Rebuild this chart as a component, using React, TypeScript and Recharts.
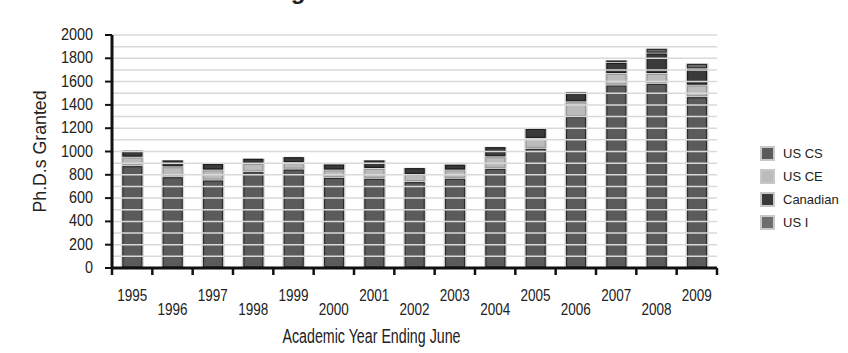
import React from 'react'
import { BarChart, Bar, XAxis, YAxis, ReferenceLine } from 'recharts'

const years = ['1995', '1996', '1997', '1998', '1999', '2000', '2001', '2002', '2003', '2004', '2005', '2006', '2007', '2008', '2009']
const usCS = [878, 783, 755, 826, 849, 778, 770, 741, 770, 855, 1027, 1300, 1570, 1585, 1470]
const usCE = [74, 86, 86, 72, 55, 63, 85, 63, 71, 100, 86, 127, 100, 85, 100]
const canadian = [58, 58, 57, 43, 51, 51, 72, 57, 49, 86, 86, 86, 95, 175, 140]
const usI = [0, 0, 0, 0, 0, 0, 0, 0, 0, 0, 0, 0, 20, 40, 46]
const yTicks = [0, 200, 400, 600, 800, 1000, 1200, 1400, 1600, 1800, 2000]
const gridLines = [100, 200, 300, 400, 500, 600, 700, 800, 900, 1000, 1100, 1200, 1300, 1400, 1500, 1600, 1700, 1800, 1900, 2000]

const data = years.map((year, i) => ({
  year,
  usCS: usCS[i],
  usCE: usCE[i],
  canadian: canadian[i],
  usI: usI[i],
}))

const series = [
  { key: 'usCS', name: 'US CS', fill: '#5b5b5b', edge: '#2b2b2b' },
  { key: 'usCE', name: 'US CE', fill: '#bcbcbc', edge: '#9a9a9a' },
  { key: 'canadian', name: 'Canadian', fill: '#3a3a3a', edge: '#1c1c1c' },
  { key: 'usI', name: 'US I', fill: '#6e6e6e', edge: '#2b2b2b' },
]

const FONT = "'Liberation Sans', Arial, sans-serif"
const W = 848
const H = 353
const LEFT = 112
const RIGHT = 131
const BAND = (W - LEFT - RIGHT) / years.length

const boxShape = (fill: string, edge: string) => (props: any) => {
  const { x, y, width, height } = props
  if (!height || height <= 0) return <g />
  return (
    <g>
      <rect x={x} y={y} width={width} height={height} fill="#d6d6d6" />
      <rect x={x + 2} y={y + 1} width={width - 4} height={Math.max(height - 2, 0)} fill={fill} stroke={edge} strokeWidth={1.2} />
    </g>
  )
}

const YearTick = ({ x, y, payload, index }: any) => {
  const dy = index % 2 === 0 ? 25 : 39
  return (
    <g>
      {index === 0 && <line x1={x - BAND / 2} x2={x - BAND / 2} y1={y - 8} y2={y - 1} stroke="#111" strokeWidth={2.5} />}
      <line x1={x + BAND / 2} x2={x + BAND / 2} y1={y - 8} y2={y - 1} stroke="#111" strokeWidth={2.5} />
      <text x={x} y={y + dy} textAnchor="middle" fontSize={16} fill="#222" fontFamily={FONT} textLength={30} lengthAdjust="spacingAndGlyphs">{payload.value}</text>
    </g>
  )
}

const ValueTick = ({ x, y, payload }: any) => (
  <text x={x} y={y + 5} textAnchor="end" fontSize={16} fill="#222" fontFamily={FONT} textLength={String(payload.value).length * 8} lengthAdjust="spacingAndGlyphs">
    {payload.value}
  </text>
)

const XTitle = ({ viewBox }: any) => {
  const cx = viewBox.x + viewBox.width / 2
  return (
    <text x={cx - 43} y={viewBox.y + viewBox.height - 10} textAnchor="middle" fontSize={20} fill="#222" fontFamily={FONT} textLength={178} lengthAdjust="spacingAndGlyphs">
      Academic Year Ending June
    </text>
  )
}

const YTitle = ({ viewBox }: any) => {
  const cy = viewBox.y + viewBox.height / 2
  const cx = 46
  return (
    <text x={cx} y={cy} transform={`rotate(-90 ${cx} ${cy})`} textAnchor="middle" fontSize={19} fill="#222" fontFamily={FONT} textLength={122} lengthAdjust="spacingAndGlyphs">
      Ph.D.s Granted
    </text>
  )
}

export default function App() {
  return (
    <div style={{ position: 'absolute', left: 0, top: 0, width: W, height: H, background: '#fff', overflow: 'hidden', fontFamily: FONT }}>
      <div style={{ position: 'absolute', left: 0, width: 840, top: -23, textAlign: 'center', fontSize: 24, fontWeight: 'bold', color: '#222' }}>
        Figure 1. Ph.D. Production
      </div>
      <BarChart width={W} height={H} data={data} margin={{ top: 35, right: RIGHT, left: 0, bottom: 0 }} barCategoryGap="22%">
        {gridLines.map(v => (
          <ReferenceLine key={v} y={v} stroke="#d9d9d9" strokeWidth={1.5} />
        ))}
        <XAxis
          dataKey="year"
          height={85}
          tick={<YearTick />}
          tickLine={false}
          interval={0}
          axisLine={{ stroke: '#111', strokeWidth: 3 }}
          label={{ content: <XTitle /> }}
        />
        <YAxis
          width={LEFT}
          domain={[0, 2000]}
          ticks={yTicks}
          interval={0}
          tick={<ValueTick />}
          tickLine={{ stroke: '#111', strokeWidth: 2 }}
          tickSize={7}
          tickMargin={12}
          axisLine={{ stroke: '#111', strokeWidth: 3 }}
          label={{ content: <YTitle /> }}
        />
        {series.map(s => (
          <Bar key={s.key} dataKey={s.key} name={s.name} stackId="a" isAnimationActive={false} shape={boxShape(s.fill, s.edge)} />
        ))}
      </BarChart>
      <div style={{ position: 'absolute', left: 760, top: 142, fontSize: 13, color: '#222' }}>
        {series.map(s => (
          <div key={s.key} style={{ display: 'flex', alignItems: 'center', height: 23 }}>
            <span style={{ width: 11, height: 11, background: s.fill, border: '2px solid #c8c8c8', marginRight: 8, display: 'inline-block' }} />
            {s.name}
          </div>
        ))}
      </div>
    </div>
  )
}
